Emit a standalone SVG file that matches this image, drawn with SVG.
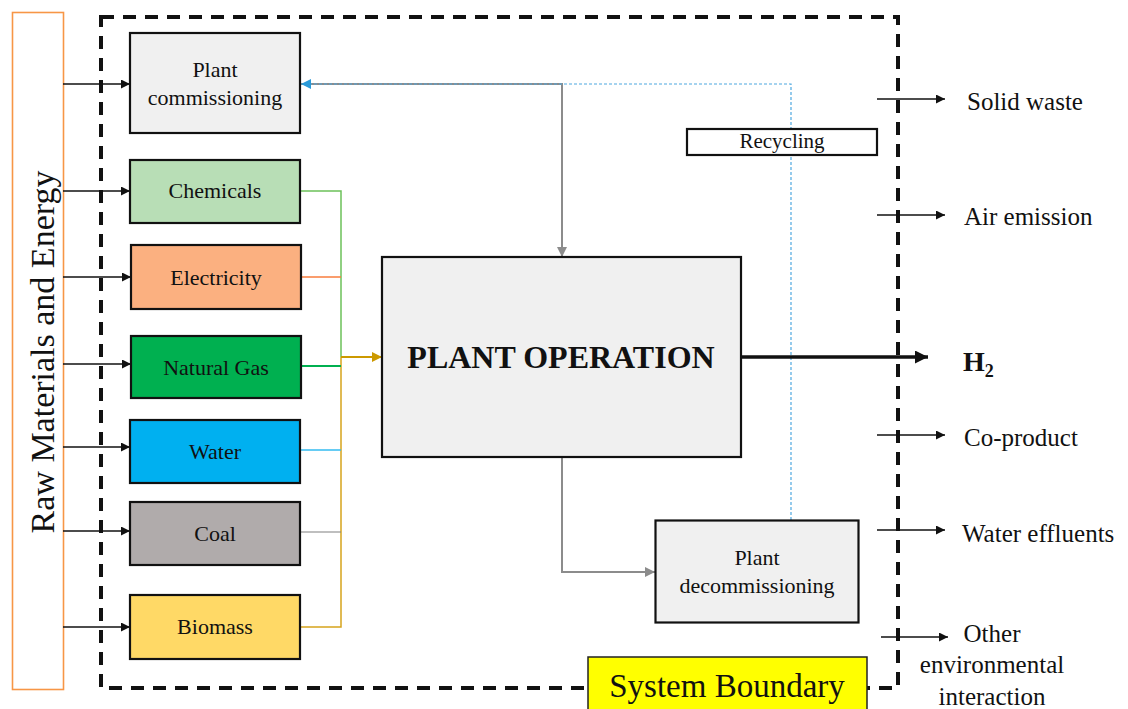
<svg xmlns="http://www.w3.org/2000/svg" width="1128" height="709" viewBox="0 0 1128 709">
<style>
text{font-family:"Liberation Serif","Times New Roman",serif;fill:#111}
.box{stroke:#111;stroke-width:2.2}
.lbl{font-size:22px;text-anchor:middle}
.out{font-size:25px}
.in{stroke:#111;stroke-width:1.3;fill:none}
</style>
<defs>
<marker id="ak" viewBox="0 0 10 10" refX="10" refY="5" markerWidth="9" markerHeight="9" markerUnits="userSpaceOnUse" orient="auto"><path d="M0,0 L10,5 L0,10 z" fill="#111"/></marker>
<marker id="akb" viewBox="0 0 10 10" refX="10" refY="5" markerWidth="13" markerHeight="13" markerUnits="userSpaceOnUse" orient="auto"><path d="M0,0 L10,5 L0,10 z" fill="#111"/></marker>
<marker id="ag" viewBox="0 0 10 10" refX="10" refY="5" markerWidth="10" markerHeight="10" markerUnits="userSpaceOnUse" orient="auto"><path d="M0,0 L10,5 L0,10 z" fill="#8c8c8c"/></marker>
<marker id="ab" viewBox="0 0 10 10" refX="10" refY="5" markerWidth="10" markerHeight="10" markerUnits="userSpaceOnUse" orient="auto"><path d="M0,0 L10,5 L0,10 z" fill="#2a9ad8"/></marker>
<marker id="ay" viewBox="0 0 10 10" refX="10" refY="5" markerWidth="10" markerHeight="10" markerUnits="userSpaceOnUse" orient="auto"><path d="M0,0 L10,5 L0,10 z" fill="#cc9900"/></marker>
</defs>
<rect width="1128" height="709" fill="#fff"/>

<g id="raw-materials">
<rect x="12.5" y="12.5" width="51" height="677" fill="#fff" stroke="#f79646" stroke-width="1.6"/>
<text transform="translate(54,352) rotate(-90)" text-anchor="middle" font-size="34">Raw Materials and Energy</text>
</g>

<g id="system-boundary-line">
<rect x="101" y="17" width="797" height="671" fill="none" stroke="#111" stroke-width="4" stroke-dasharray="13 9"/>
</g>

<g id="connectors">
<line class="in" x1="63" y1="84" x2="130" y2="84" marker-end="url(#ak)"/>
<line class="in" x1="63" y1="191" x2="130" y2="191" marker-end="url(#ak)"/>
<line class="in" x1="63" y1="277" x2="131" y2="277" marker-end="url(#ak)"/>
<line class="in" x1="63" y1="364" x2="131" y2="364" marker-end="url(#ak)"/>
<line class="in" x1="63" y1="447" x2="130" y2="447" marker-end="url(#ak)"/>
<line class="in" x1="63" y1="531" x2="130" y2="531" marker-end="url(#ak)"/>
<line class="in" x1="63" y1="627" x2="130" y2="627" marker-end="url(#ak)"/>
<polyline points="300,191 341,191 341,357" fill="none" stroke="#6cc15a" stroke-width="1.5"/>
<polyline points="300,627 341,627 341,357" fill="none" stroke="#d6a41c" stroke-width="1.5"/>
<line x1="301" y1="277" x2="341" y2="277" stroke="#f97c3c" stroke-width="1.5"/>
<line x1="301" y1="366" x2="341" y2="366" stroke="#00b050" stroke-width="2"/>
<line x1="300" y1="450" x2="341" y2="450" stroke="#33bbf0" stroke-width="1.5"/>
<line x1="300" y1="532" x2="341" y2="532" stroke="#808080" stroke-width="1.2"/>
<line x1="341" y1="357" x2="382" y2="357" stroke="#cc9900" stroke-width="2" marker-end="url(#ay)"/>
<polyline points="300,84 562,84 562,257" fill="none" stroke="#8c8c8c" stroke-width="2" marker-end="url(#ag)"/>
<polyline points="562,457 562,572 655,572" fill="none" stroke="#8c8c8c" stroke-width="2" marker-end="url(#ag)"/>
<polyline points="791,520 791,84 301,84" fill="none" stroke="#4fa8e0" stroke-width="1.2" stroke-dasharray="3 2" marker-end="url(#ab)"/>
<line x1="741" y1="357" x2="928" y2="357" stroke="#111" stroke-width="3.5" marker-end="url(#akb)"/>
<line class="in" x1="877" y1="99" x2="945" y2="99" marker-end="url(#ak)"/>
<line class="in" x1="877" y1="215" x2="945" y2="215" marker-end="url(#ak)"/>
<line class="in" x1="877" y1="435" x2="945" y2="435" marker-end="url(#ak)"/>
<line class="in" x1="877" y1="530" x2="945" y2="530" marker-end="url(#ak)"/>
<line class="in" x1="881" y1="637" x2="948" y2="637" marker-end="url(#ak)"/>
</g>

<g id="plant-commissioning">
<rect class="box" x="130" y="33" width="170" height="100" fill="#f0f0f0"/>
<text class="lbl" x="215" y="77">Plant</text>
<text class="lbl" x="215" y="105">commissioning</text>
</g>
<g id="chemicals">
<rect class="box" x="130" y="160" width="170" height="63" fill="#b8deb6"/>
<text class="lbl" x="215" y="198">Chemicals</text>
</g>
<g id="electricity">
<rect class="box" x="131" y="245" width="170" height="64" fill="#fbb080"/>
<text class="lbl" x="216" y="285">Electricity</text>
</g>
<g id="natural-gas">
<rect class="box" x="131" y="336" width="170" height="62" fill="#00b050"/>
<text class="lbl" x="216" y="375">Natural Gas</text>
</g>
<g id="water">
<rect class="box" x="130" y="420" width="170" height="63" fill="#00b0f0"/>
<text class="lbl" x="215" y="459">Water</text>
</g>
<g id="coal">
<rect class="box" x="130" y="502" width="170" height="63" fill="#b0abab"/>
<text class="lbl" x="215" y="541">Coal</text>
</g>
<g id="biomass">
<rect class="box" x="130" y="595" width="170" height="64" fill="#ffd966"/>
<text class="lbl" x="215" y="634">Biomass</text>
</g>

<g id="plant-operation">
<rect class="box" x="382" y="257" width="359" height="200" fill="#f0f0f0"/>
<text x="561" y="368" text-anchor="middle" font-size="32" font-weight="bold">PLANT OPERATION</text>
</g>

<g id="recycling">
<rect class="box" x="687" y="129" width="190" height="26" fill="#fff"/>
<text x="782" y="148" text-anchor="middle" font-size="21">Recycling</text>
</g>

<g id="plant-decommissioning">
<rect class="box" x="655.5" y="520.5" width="203" height="102" fill="#f0f0f0"/>
<text class="lbl" x="757" y="565">Plant</text>
<text class="lbl" x="757" y="593">decommissioning</text>
</g>

<g id="h2">
<text x="963" y="371" font-size="28" font-weight="bold">H<tspan font-size="18" dy="6">2</tspan></text>
</g>

<g id="outputs">
<text class="out" x="967" y="110">Solid waste</text>
<text class="out" x="964" y="225">Air emission</text>
<text class="out" x="964" y="446">Co-product</text>
<text class="out" x="962" y="542">Water effluents</text>
<text class="out" x="992" y="642" text-anchor="middle">Other</text>
<text class="out" x="992" y="673" text-anchor="middle">environmental</text>
<text class="out" x="992" y="705" text-anchor="middle">interaction</text>
</g>

<g id="system-boundary">
<rect x="588" y="657" width="279" height="56" fill="#ffff00" stroke="#222" stroke-width="1.5"/>
<text x="727" y="697" text-anchor="middle" font-size="33">System Boundary</text>
</g>
</svg>
